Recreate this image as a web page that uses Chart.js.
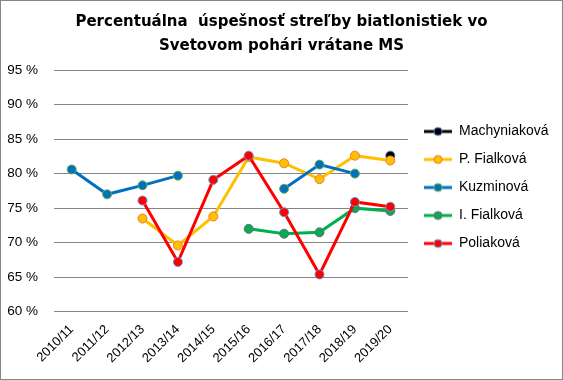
<!DOCTYPE html>
<html>
<head>
<meta charset="utf-8">
<script src="https://cdn.jsdelivr.net/npm/chart.js@4.4.0/dist/chart.umd.min.js"></script>
<style>
  body { margin: 0; background: #fff; }
  #wrap { width: 563px; height: 380px; }
</style>
</head>
<body>
<div id="wrap"><canvas id="myChart" width="563" height="380"></canvas></div>
<script>
const seasons = ["2010/11", "2011/12", "2012/13", "2013/14", "2014/15", "2015/16", "2016/17", "2017/18", "2018/19", "2019/20"];
const machyniakova = [null, null, null, null, null, null, null, null, null, 82.6];
const pFialkova = [null, null, 73.5, 69.6, 73.8, 82.4, 81.5, 79.2, 82.6, 81.9];
const kuzminova = [80.6, 77.0, 78.3, 79.7, null, null, 77.8, 81.3, 80.0, null];
const iFialkova = [null, null, null, null, null, 72.0, 71.3, 71.5, 75.0, 74.6];
const poliakova = [null, null, 76.1, 67.2, 79.1, 82.6, 74.4, 65.4, 75.9, 75.2];
const yTicks = [60, 65, 70, 75, 80, 85, 90, 95];

// line colour, marker fill, marker border
const styles = [
    ["#000000", "#000000", "#4472C4"],
    ["#FFC000", "#FFC000", "#ED7D31"],
    ["#0070C0", "#0070C0", "#70AD47"],
    ["#00B050", "#00B050", "#7F6084"],
    ["#FF0000", "#FF0000", "#5B9BD5"]
]

// legend marker: line with a dot, 2px empty on the left
function makeMarker(s) {
    const c = document.createElement('canvas');
    c.width = 30; c.height = 12;
    const g = c.getContext('2d');
    g.strokeStyle = s[0]; g.lineWidth = 3;
    g.beginPath(); g.moveTo(2, 6); g.lineTo(30, 6); g.stroke();
    g.fillStyle = s[1]; g.strokeStyle = s[2]; g.lineWidth = 1;
    g.beginPath(); g.arc(16, 6, 4, 0, Math.PI * 2); g.fill(); g.stroke();
    return c;
}
const markers = styles.map(makeMarker);

const series = [
    ["Machyniaková", machyniakova],
    ["P. Fialková", pFialkova],
    ["Kuzminová", kuzminova],
    ["I. Fialková", iFialkova],
    ["Poliaková", poliakova]
]

const datasets = series.map((item, index) => {
    return {
        label: item[0],
        data: item[1],
        borderColor: styles[index][0],
        backgroundColor: styles[index][1],
        pointBackgroundColor: styles[index][1],
        pointBorderColor: styles[index][2],
        pointBorderWidth: 1,
        pointRadius: 4.5,
        borderWidth: 3,
        order: series.length - index,
        spanGaps: false,
    }
})

const frame = {
    id: 'frame',
    beforeLayout(chart) {
        // legend gets a fixed width so the names are not cut
        const lg = chart.legend;
        if (lg && !lg._wide) {
            const fit = lg.fit;
            lg.fit = function () { fit.call(this); this.width = 155; };
            lg._wide = true;
        }
    },
    beforeDraw(chart) {
        const ctx = chart.ctx;
        ctx.save();
        ctx.fillStyle = '#fff';
        ctx.fillRect(0, 0, chart.width, chart.height);
        ctx.strokeStyle = '#868686';
        ctx.lineWidth = 1;
        ctx.strokeRect(0.5, 0.5, chart.width - 1, chart.height - 1);
        ctx.restore();
    }
}

new Chart(document.getElementById('myChart'), {
    type: 'line',
    data: { labels: seasons, datasets: datasets },
    plugins: [frame],
    options: {
        responsive: false,
        animation: false,
        layout: { padding: { left: 0, right: 0, top: 0, bottom: 12 } },
        plugins: {
            title: {
                display: true,
                text: ["Percentuálna  úspešnosť streľby biatlonistiek vo", "Svetovom pohári vrátane MS"],
                font: { family: "DejaVu Sans", size: 15, weight: 'bold', lineHeight: 1.6 },
                color: '#000',
                padding: { top: 10, bottom: 12 }
            },
            legend: {
                position: 'right',
                // empty title only nudges the items down a little
                title: { display: true, text: ' ', font: { size: 7, lineHeight: 1 }, padding: 0 },
                labels: {
                    usePointStyle: true,
                    pointStyleWidth: 30,
                    padding: 14,
                    color: '#000',
                    font: { family: "Liberation Sans", size: 14 },
                    sort: (a, b) => a.datasetIndex - b.datasetIndex,
                    generateLabels(chart) {
                        const items = Chart.defaults.plugins.legend.labels.generateLabels(chart);
                        items.forEach(it => { it.pointStyle = markers[it.datasetIndex]; });
                        return items;
                    }
                }
            },
            tooltip: { enabled: false }
        },
        scales: {
            x: {
                offset: true,
                grid: { display: false },
                border: { display: false },
                afterFit: (scale) => { scale.paddingLeft = 0; },
                ticks: {
                    color: '#000',
                    font: { family: "Liberation Sans", size: 13 },
                    maxRotation: 45,
                    minRotation: 45,
                    autoSkip: false,
                    padding: 2
                }
            },
            y: {
                min: 60,
                max: 95,
                afterBuildTicks: (axis) => { axis.ticks = yTicks.map(v => ({ value: v })); },
                afterFit: (axis) => { axis.width = 54; },
                grid: { color: '#868686', drawTicks: false },
                border: { display: false },
                ticks: {
                    color: '#000',
                    font: { family: "Liberation Sans", size: 13.5 },
                    padding: 16,
                    callback: (v) => v + ' %'
                }
            }
        }
    }
});
</script>
</body>
</html>
